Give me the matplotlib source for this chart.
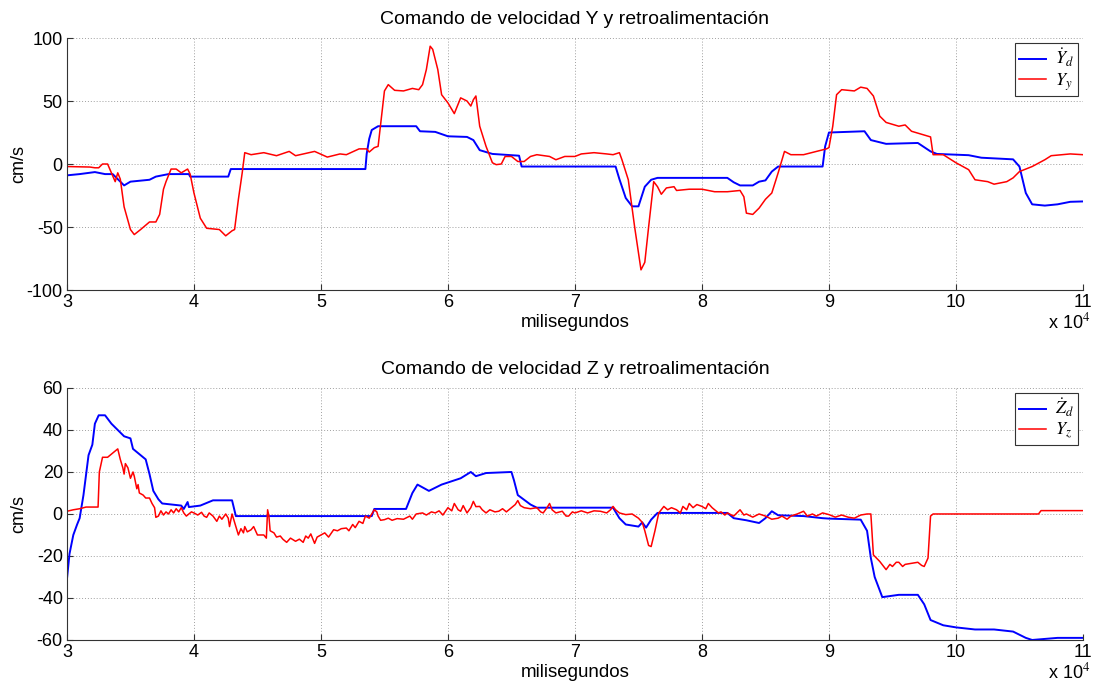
import numpy as np
import matplotlib.pyplot as plt
from matplotlib.ticker import FuncFormatter

plt.rcParams['font.family'] = ['Liberation Sans', 'DejaVu Sans']
plt.rcParams['mathtext.fontset'] = 'stix'
plt.rcParams['axes.unicode_minus'] = False

# time axis values are given in units of 1e4 ms
SCALE = 1e4

# ---- Y velocity: command (Yd dot) ----
t_yd = [3.0, 3.1, 3.22, 3.3, 3.36, 3.45, 3.5, 3.65, 3.7, 3.8, 3.96, 3.97, 4.27, 4.29,
        5.35, 5.36, 5.38, 5.4, 5.45, 5.75, 5.78, 5.9, 6.0, 6.15, 6.2, 6.25, 6.35, 6.5,
        6.56, 6.58, 7.32, 7.35, 7.4, 7.45, 7.5, 7.55, 7.6, 7.65, 8.2, 8.25, 8.3, 8.4,
        8.45, 8.5, 8.55, 8.6, 8.95, 8.97, 9.0, 9.28, 9.33, 9.45, 9.7, 9.8, 9.85, 10.0,
        10.1, 10.2, 10.45, 10.5, 10.55, 10.6, 10.7, 10.8, 10.9, 11.0]
v_yd = [-9, -8, -6.4, -8, -8, -17, -14, -12.5, -10, -8, -8, -10, -10, -4,
        -4, 8, 20, 27, 30, 30, 26, 25.5, 22, 21.5, 19, 11, 8, 7,
        6.6, -2, -2, -12, -27, -33.6, -33.6, -18, -12.5, -11, -11, -14.5, -17, -17,
        -14, -13, -6, -2, -2, 14, 25, 26, 19, 16, 16.7, 10, 8, 7.4,
        7, 5, 3.7, -2, -23, -32, -33, -32, -30, -29.7]

# ---- Y velocity: feedback (Y_y) ----
t_yy = [3.0, 3.18, 3.22, 3.25, 3.28, 3.32, 3.35, 3.38, 3.4, 3.42, 3.45, 3.5, 3.53, 3.58,
        3.65, 3.7, 3.73, 3.76, 3.78, 3.82, 3.86, 3.9, 3.95, 3.97, 4.0, 4.05, 4.1, 4.2,
        4.25, 4.3, 4.32, 4.35, 4.38, 4.4, 4.45, 4.55, 4.65, 4.75, 4.8, 4.95, 5.05, 5.15,
        5.2, 5.3, 5.36, 5.38, 5.42, 5.45, 5.48, 5.5, 5.53, 5.58, 5.65, 5.72, 5.77, 5.8,
        5.83, 5.86, 5.88, 5.92, 5.95, 6.0, 6.05, 6.1, 6.15, 6.18, 6.2, 6.22, 6.25, 6.3,
        6.35, 6.38, 6.42, 6.45, 6.5, 6.55, 6.6, 6.65, 6.7, 6.8, 6.85, 6.92, 7.0, 7.05,
        7.15, 7.25, 7.3, 7.35, 7.37, 7.42, 7.47, 7.52, 7.55, 7.58, 7.62, 7.65, 7.68, 7.72,
        7.78, 7.8, 7.9, 8.0, 8.1, 8.2, 8.3, 8.33, 8.35, 8.4, 8.45, 8.5, 8.55, 8.6,
        8.65, 8.7, 8.8, 8.9, 8.98, 9.0, 9.03, 9.06, 9.1, 9.2, 9.25, 9.3, 9.35, 9.4,
        9.45, 9.55, 9.6, 9.65, 9.75, 9.8, 9.82, 9.9, 10.0, 10.1, 10.15, 10.25, 10.3, 10.4,
        10.45, 10.5, 10.6, 10.7, 10.75, 10.9, 11.0]
v_yy = [-2, -2.4, -3, -3, 0, 0, -7, -14, -7, -12, -34, -52, -56, -52,
        -46, -46, -40, -20, -14, -4, -4, -7, -4, -8, -23, -43, -51, -52,
        -57, -53, -52, -28, -7, 9, 7.4, 9, 6.6, 10, 6.6, 10, 5.5, 8,
        7.4, 12, 12, 9.5, 13, 14, 40, 58, 63, 58.5, 58, 60, 59, 63,
        75, 93.5, 91, 75, 55, 48.5, 40, 52.5, 50, 46, 51, 54, 30, 14,
        1, -0.5, 0, 6, 6, 2, 2, 6, 7.4, 6, 3.4, 6, 6, 8,
        9, 8, 7.4, 9, 3.4, -12.5, -50, -84, -78, -50, -14, -18, -24, -19,
        -18, -21, -20, -20, -22, -22, -21, -26, -39, -40, -35, -28, -23, -7,
        10, 7.4, 7.4, 10, 12, 13, 30, 55, 59, 58, 61, 60, 54, 38,
        33, 30, 31, 26, 23, 21.5, 7.4, 7.4, 1, -4.5, -12.5, -14, -16, -14,
        -11, -6, -2, 3.4, 6.6, 8, 7.4]

# ---- Z velocity: command (Zd dot) ----
t_zd = [3.0, 3.02, 3.05, 3.08, 3.1, 3.13, 3.17, 3.2, 3.22, 3.25, 3.3, 3.35, 3.4, 3.45,
        3.5, 3.52, 3.6, 3.62, 3.65, 3.68, 3.72, 3.75, 3.9, 3.92, 3.95, 3.96, 4.05, 4.15,
        4.3, 4.33, 5.4, 5.42, 5.67, 5.72, 5.76, 5.82, 5.85, 5.95, 6.1, 6.18, 6.22, 6.3,
        6.5, 6.52, 6.55, 6.65, 6.7, 7.3, 7.35, 7.4, 7.5, 7.53, 7.56, 7.6, 7.65, 8.2,
        8.25, 8.35, 8.45, 8.5, 8.55, 8.6, 8.8, 8.95, 9.0, 9.25, 9.3, 9.33, 9.36, 9.42,
        9.55, 9.7, 9.75, 9.8, 9.9, 10.0, 10.15, 10.3, 10.45, 10.55, 10.6, 10.8, 11.0]
v_zd = [-31, -19, -10, -5, -2, 9, 28, 33, 43, 47, 47, 43, 40, 37,
        36, 31, 27, 26, 19, 11, 7, 5, 4, 2.4, 5.7, 3.3, 4, 6.5,
        6.5, -1, -1, 2.4, 2.4, 10, 14, 12, 11, 14, 17, 20, 18, 19.5,
        20, 16, 9, 4.5, 3, 3, -2, -5, -6, -4, -6.5, -2.7, 0.5, 0.5,
        -2, -3, -4.3, -2, 1.3, -0.6, -1, -2, -2.2, -2.7, -8, -21, -30, -39.6,
        -38.5, -38.5, -43, -50.5, -53, -54, -55, -55, -56, -59, -60, -59, -59]

# ---- Z velocity: feedback (Y_z) ----
t_yz = [3.0, 3.05, 3.1, 3.15, 3.245, 3.255, 3.28, 3.32, 3.36, 3.4, 3.42, 3.44, 3.45, 3.46,
        3.48, 3.5, 3.52, 3.53, 3.55, 3.56, 3.57, 3.6, 3.62, 3.65, 3.67, 3.69, 3.7, 3.72,
        3.74, 3.76, 3.78, 3.8, 3.82, 3.84, 3.86, 3.88, 3.9, 3.92, 3.94, 3.96, 3.98, 4.0,
        4.03, 4.06, 4.08, 4.1, 4.12, 4.15, 4.18, 4.2, 4.22, 4.25, 4.27, 4.28, 4.29, 4.3,
        4.32, 4.35, 4.37, 4.39, 4.4, 4.42, 4.45, 4.47, 4.5, 4.55, 4.57, 4.58, 4.59, 4.6,
        4.63, 4.65, 4.68, 4.7, 4.73, 4.76, 4.8, 4.83, 4.86, 4.88, 4.9, 4.92, 4.95, 4.97,
        5.0, 5.03, 5.06, 5.1, 5.13, 5.16, 5.2, 5.22, 5.25, 5.27, 5.3, 5.33, 5.35, 5.38,
        5.42, 5.44, 5.45, 5.47, 5.5, 5.53, 5.56, 5.6, 5.65, 5.7, 5.72, 5.75, 5.8, 5.83,
        5.87, 5.9, 5.93, 5.96, 6.0, 6.03, 6.05, 6.08, 6.1, 6.12, 6.15, 6.18, 6.2, 6.22,
        6.25, 6.27, 6.3, 6.33, 6.37, 6.4, 6.43, 6.46, 6.5, 6.53, 6.55, 6.57, 6.6, 6.65,
        6.7, 6.73, 6.75, 6.78, 6.8, 6.82, 6.85, 6.9, 6.93, 6.95, 6.98, 7.0, 7.05, 7.1,
        7.15, 7.2, 7.25, 7.28, 7.3, 7.32, 7.35, 7.4, 7.45, 7.5, 7.53, 7.55, 7.58, 7.6,
        7.63, 7.66, 7.7, 7.73, 7.76, 7.8, 7.83, 7.85, 7.88, 7.9, 7.93, 7.96, 8.0, 8.03,
        8.05, 8.08, 8.1, 8.13, 8.15, 8.18, 8.2, 8.25, 8.3, 8.33, 8.35, 8.4, 8.45, 8.5,
        8.55, 8.6, 8.63, 8.67, 8.7, 8.75, 8.8, 8.83, 8.87, 8.9, 8.95, 9.0, 9.05, 9.1,
        9.15, 9.2, 9.25, 9.3, 9.33, 9.35, 9.4, 9.45, 9.48, 9.5, 9.53, 9.55, 9.58, 9.6,
        9.65, 9.7, 9.73, 9.75, 9.78, 9.8, 9.82, 10.65, 10.67, 11.0]
v_yz = [1.3, 2, 2.5, 3.3, 3.3, 20, 27, 27, 29, 31, 26, 22, 19, 24,
        22, 17, 20, 18, 12, 14, 10, 9, 7.6, 7.6, 5, 3, -1.6, -1,
        1.5, -0.5, 1, 0, 2, 0.5, 2.5, 1, 3, 0.5, -1, 0, 1, 0.5,
        -0.5, 0.8, -1, -1.6, 0.5, -1, -3.5, -1, -2.5, 0, -2, -6, -3, 0,
        -4, -10, -7, -9, -6, -8.5, -7.5, -6, -10, -10, -11.5, 2, -1, -8,
        -9, -11, -10.5, -12, -13.5, -11.5, -13, -12, -13.5, -10.5, -11.5, -9.5, -14, -11,
        -10, -9, -11, -7.5, -8, -7, -6.7, -8, -5, -6.5, -3.5, -4.5, -1, -2,
        2, 1, -1, -3, -2.7, -2, -3, -2.2, -2.5, -1, -2.5, 0, 0.5, -0.5,
        1, 0.5, 1.5, -0.5, 3, 1.5, 5, 2, 1.3, 4, 0.5, 3, 6, 3.5,
        3.6, 2, 0.5, 2, 1, 1.3, 2.5, 1, 3, 4.5, 6.4, 4, 3, 2.5,
        3, 1, 0.5, 3, 5, 2, 0.5, 1.3, -1, -1, 1, 0.5, 1.5, 0.5,
        1.5, 1.3, 0.5, 2, 3.6, 2, 0.5, -0.3, 0, -2, -4, -8, -15, -15.5,
        -8, 0.5, 3.6, 2, 3, 2, 0.5, 3.6, 2, 5, 3, 4.5, 3.6, 2.5,
        5, 3, 2, 0.5, 1, -0.5, 0.5, -1, 2, -0.5, 0, -1.5, 0, -1,
        -2.5, -2, -1, -2.5, -1, 0, 1.3, -1, 0, -1, 0.5, -0.3, -1.5, -0.5,
        -1.5, -2, -0.5, 0, 0, -19.5, -22.6, -26.5, -24, -25, -23, -23, -25, -24,
        -23.5, -23, -24.5, -25, -21, -1, 0, 0, 1.6, 1.6]

x_ticks = [3, 4, 5, 6, 7, 8, 9, 10, 11]
y_ticks_top = [-100, -50, 0, 50, 100]
y_ticks_bot = [-60, -40, -20, 0, 20, 40, 60]

title_top = 'Comando de velocidad Y y retroalimentación'
title_bot = 'Comando de velocidad Z y retroalimentación'
legend_top = [r'$\dot{Y}_d$', r'$Y_y$']
legend_bot = [r'$\dot{Z}_d$', r'$Y_z$']

fig = plt.figure(figsize=(10.94, 6.9), dpi=100)
ax1 = fig.add_axes([0.0612, 0.5797, 0.9287, 0.3652])
ax2 = fig.add_axes([0.0612, 0.0725, 0.9287, 0.3652])


def draw(ax, t_cmd, v_cmd, t_fb, v_fb, yticks, title, labels):
    ax.plot(np.array(t_cmd) * SCALE, v_cmd, color='#0000ff', lw=1.4, label=labels[0])
    ax.plot(np.array(t_fb) * SCALE, v_fb, color='#ff0000', lw=1.1, label=labels[1])
    ax.set_xlim(x_ticks[0] * SCALE, x_ticks[-1] * SCALE)
    ax.set_ylim(yticks[0], yticks[-1])
    ax.set_xticks(np.array(x_ticks) * SCALE)
    ax.xaxis.set_major_formatter(FuncFormatter(lambda x, p: f'{x / SCALE:g}'))
    ax.set_yticks(yticks)
    ax.grid(True, linestyle=(0, (1, 2)), color='#a0a0a0', linewidth=0.7)
    for s in ('top', 'right'):
        ax.spines[s].set_visible(False)
    for s in ('left', 'bottom'):
        ax.spines[s].set_color('#333333')
        ax.spines[s].set_linewidth(0.8)
    ax.tick_params(direction='in', length=4, labelsize=13, colors='#333333',
                   labelcolor='black', pad=3)
    ax.set_title(title, fontsize=14, pad=10)
    ax.set_xlabel('milisegundos', fontsize=13.5, labelpad=2)
    ax.set_ylabel('cm/s', fontsize=13)
    ax.yaxis.set_label_coords(-0.039, 0.5)
    ax.text(1.0069, -0.128, r'x 10$^{4}$', transform=ax.transAxes, ha='right',
            va='center', fontsize=13)
    leg = ax.legend(loc='upper right', fontsize=13, handlelength=1.5,
                    fancybox=False, framealpha=1, borderpad=0.2,
                    labelspacing=0.1, handletextpad=0.5, borderaxespad=0.3)
    leg.get_frame().set_edgecolor('#333333')
    leg.get_frame().set_linewidth(0.8)


draw(ax1, t_yd, v_yd, t_yy, v_yy, y_ticks_top, title_top, legend_top)
draw(ax2, t_zd, v_zd, t_yz, v_yz, y_ticks_bot, title_bot, legend_bot)

fig.savefig('out.png', dpi=100)
